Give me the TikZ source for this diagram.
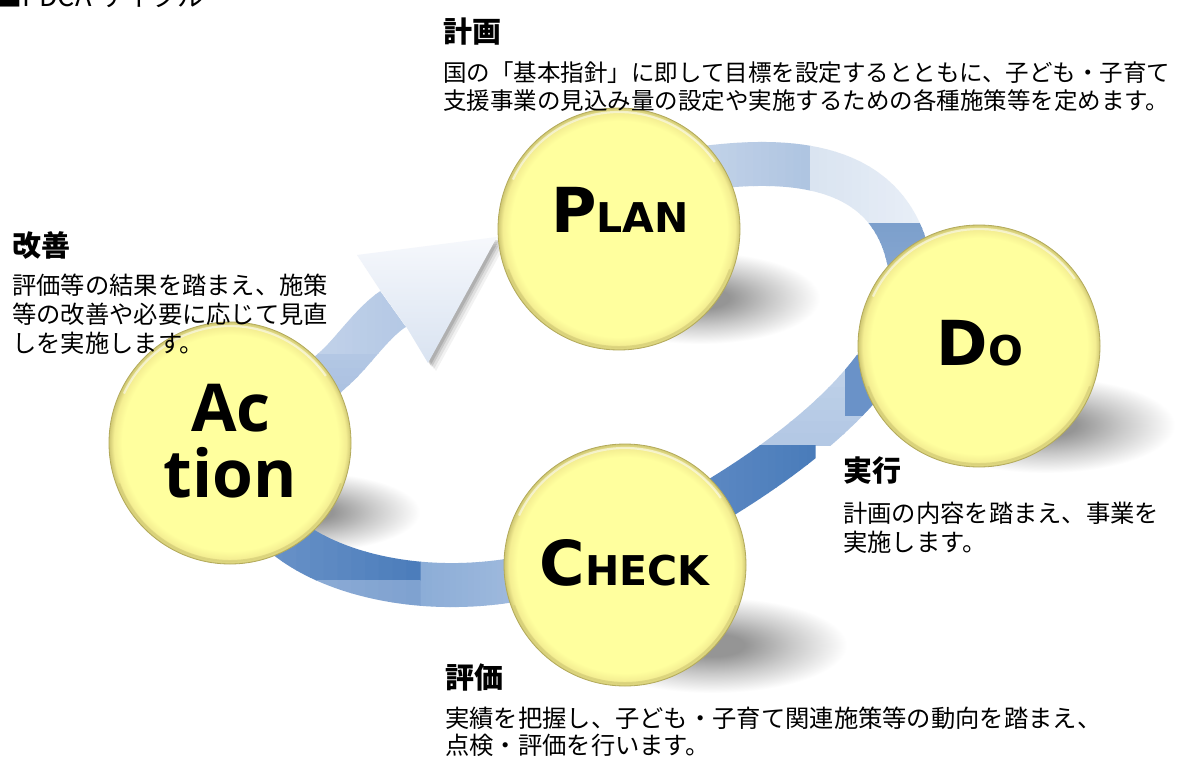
\documentclass[tikz,border=0pt]{standalone}
\usepackage{fontspec}
\newfontfamily\jp{Noto Sans CJK JP}
\newfontfamily\lab{DejaVu Sans}
\newfontfamily\labact{Open Sans}
\definecolor{ballA}{HTML}{FFFF9E}
\definecolor{ballB}{HTML}{F4EE92}
\definecolor{ballC}{HTML}{CFC773}
\definecolor{rimc}{HTML}{B3AA5A}
\definecolor{shd}{HTML}{959595}
\definecolor{tA1}{HTML}{C6D5EA}
\definecolor{tA2}{HTML}{AFC5E1}
\definecolor{tB1}{HTML}{DAE4F1}
\definecolor{tB2}{HTML}{EAF0F8}
\definecolor{tC1}{HTML}{7C9FCC}
\definecolor{tC2}{HTML}{8AAAD3}
\definecolor{rA1}{HTML}{D3E0F0}
\definecolor{rA2}{HTML}{B3C8E4}
\definecolor{rB1}{HTML}{5E8AC4}
\definecolor{rB2}{HTML}{4A7CBA}
\definecolor{rD}{HTML}{6A92C8}
\definecolor{bC1}{HTML}{8CADD7}
\definecolor{bC2}{HTML}{9EB9DD}
\definecolor{bD1}{HTML}{769BCD}
\definecolor{bD2}{HTML}{4C7DBB}
\definecolor{bE1}{HTML}{9AB5DB}
\definecolor{bE2}{HTML}{7FA2D0}
\definecolor{sA1}{HTML}{98B4DA}
\definecolor{sA2}{HTML}{A9C1E0}
\definecolor{sB1}{HTML}{C3D3EA}
\definecolor{sB2}{HTML}{B3C7E4}
\definecolor{headT}{HTML}{F6F8FC}
\definecolor{headB}{HTML}{D9E3F1}
\pgfdeclareradialshading{ballyellow}{\pgfpoint{0bp}{0bp}}{color(0bp)=(ballA); color(22.3bp)=(ballA); color(24bp)=(ballB); color(25bp)=(ballC); color(50bp)=(ballC)}
\pgfdeclareradialshading{shadowsh}{\pgfpoint{0bp}{0bp}}{color(0bp)=(shd); color(6bp)=(shd); color(15bp)=(shd!50!white); color(25bp)=(white); color(50bp)=(white)}
\newcommand\bandgx[7]{%
  \foreach \ii in {0,...,15}{%
    \pgfmathtruncatemacro\pp{100-100*\ii/15}%
    \begin{scope}
      \clip ({#2+(#3-#2)*\ii/16},#4) rectangle ({#2+(#3-#2)*(\ii+1)/16+0.6},#5);
      \draw[bandline, color=#6!\pp!#7] #1;
    \end{scope}
  }%
}
\newcommand\bandgy[7]{%
  \foreach \ii in {0,...,15}{%
    \pgfmathtruncatemacro\pp{100-100*\ii/15}%
    \begin{scope}
      \clip (#2,{#4+(#5-#4)*\ii/16}) rectangle (#3,{#4+(#5-#4)*(\ii+1)/16+0.6});
      \draw[bandline, color=#6!\pp!#7] #1;
    \end{scope}
  }%
}
\tikzset{
  bandline/.style={line width=44pt},
  ballnode/.style={circle, minimum size=242pt, inner sep=0pt, shading=ballyellow, draw=rimc, line width=0.8pt},
  softshadow/.style={shading=shadowsh},
  biglab/.style={anchor=base, inner sep=0pt, font=\lab\bfseries},
  actlab/.style={anchor=base, inner sep=0pt, font=\labact\bfseries\fontsize{66}{66}\selectfont},
  jphead/.style={anchor=base west, inner sep=0pt, font=\jp\bfseries\fontsize{29}{29}\selectfont},
  jpbody/.style={anchor=base west, inner sep=0pt, font=\jp\fontsize{24.3}{24.3}\selectfont},
  jpbodys/.style={anchor=base west, inner sep=0pt, font=\jp\fontsize{23.5}{23.5}\selectfont},
}
\def\bandtop{(690,170) .. controls (790,155) and (900,160) .. (912,280)}
\def\bandright{(912,280) .. controls (905,360) and (820,440) .. (700,510)}
\def\bandmain{(700,510) .. controls (640,545) and (560,578) .. (480,584) .. controls (400,590) and (330,570) .. (290,540) .. controls (245,480) and (290,407) .. (335,368) .. controls (352,353) and (372,323) .. (393,309)}
\begin{document}
\begin{tikzpicture}[x=1pt,y=-1pt]
\useasboundingbox (0,0) rectangle (1184,757);
\fill[white] (0,0) rectangle (1184,757);
% soft shadows
\foreach \cx/\cy/\rx/\ry in {700/298/120/46, 1045/425/130/48, 712/645/135/48, 305/512/115/40}{
  \shade[softshadow] (\cx,\cy) ellipse [x radius=\rx*1pt, y radius=\ry*1pt];
}
% band: top arc (PLAN -> Do)
\bandgx{\bandtop}{680}{810}{100}{330}{tA1}{tA2}
\bandgx{\bandtop}{810}{945}{100}{223}{tB1}{tB2}
\bandgy{\bandtop}{860}{945}{223}{300}{tC1}{tC2}
% band: Do -> CHECK
\bandgy{\bandright}{660}{960}{260}{445}{rA1}{rA2}
\bandgx{\bandright}{690}{815}{445}{560}{rB1}{rB2}
\begin{scope}
  \clip (845,355) rectangle (885,415);
  \draw[bandline, color=rD] \bandright;
\end{scope}
% band: CHECK -> Action -> arrow shaft
\bandgx{\bandmain}{420}{515}{470}{660}{bC1}{bC2}
\bandgx{\bandmain}{200}{420}{480}{580}{bD1}{bD2}
\bandgx{\bandmain}{200}{420}{580}{660}{bE1}{bE2}
\bandgy{\bandmain}{200}{420}{353}{480}{sB2}{sA1}
\bandgx{\bandmain}{300}{420}{280}{353}{sB1}{sB2}
% arrow head
\coordinate (tip) at (497,237);
\coordinate (wl) at (357,255);
\coordinate (nl) at (380,290);
\coordinate (nr) at (407,328);
\coordinate (wr) at (428,363);
\foreach \s/\o in {8/0.05, 6/0.07, 4/0.10, 2.5/0.12}{
  \fill[black, opacity=\o] ([shift={(\s,\s)}]tip) -- ([shift={(\s,\s)}]wl) -- ([shift={(\s,\s)}]nl) -- ([shift={(\s,\s)}]nr) -- ([shift={(\s,\s)}]wr) -- cycle;
}
\shade[top color=headT, bottom color=headB] (tip) -- (wl) -- (nl) -- (nr) -- (wr) -- cycle;
% circles
\node[ballnode] (plan) at (619,229) {};
\node[ballnode] (do) at (979,346) {};
\node[ballnode] (check) at (625,565) {};
\node[ballnode] (act) at (230,443) {};
\foreach \n in {plan,do,check,act}{
  \draw[white, opacity=0.55, line width=2.2pt] (\n.center) ++(155:117pt) arc[start angle=155, end angle=35, radius=117pt];
  \draw[ballC, opacity=0.5, line width=2pt] (\n.center) ++(200:118pt) arc[start angle=200, end angle=340, radius=118pt];
}
% labels
\node[biglab] (planlab) at (620,232) {{\fontsize{62}{62}\selectfont P}{\fontsize{41}{41}\selectfont LAN}};
\node[biglab] (dolab) at (980,365) {{\fontsize{62}{62}\selectfont D}{\fontsize{41}{41}\selectfont O}};
\node[biglab] (checklab) at (624.5,585) {{\fontsize{62}{62}\selectfont C}{\fontsize{41}{41}\selectfont HECK}};
\node[actlab] (actlab1) at (231,431) {Ac};
\node[actlab] (actlab2) at (230,497) {tion};
% texts
\node[anchor=base west, inner sep=0pt, font=\jp\fontsize{27}{27}\selectfont] (title) at (-5,7) {■PDCA サイクル};
\node[jphead] (h1) at (443,43) {計画};
\node[jpbodys] (p1a) at (443,82) {国の「基本指針」に即して目標を設定するとともに、子ども・子育て};
\node[jpbodys] (p1b) at (443,110) {支援事業の見込み量の設定や実施するための各種施策等を定めます。};
\node[jphead] (h2) at (12,256) {改善};
\node[jpbody] (p2a) at (12,294) {評価等の結果を踏まえ、施策};
\node[jpbody] (p2b) at (12,323) {等の改善や必要に応じて見直};
\node[jpbody] (p2c) at (12,352) {しを実施します。};
\node[jphead] (h3) at (843,481) {実行};
\node[jpbody] (p3a) at (843,522) {計画の内容を踏まえ、事業を};
\node[jpbody] (p3b) at (843,551) {実施します。};
\node[jphead] (h4) at (445,688) {評価};
\node[jpbody] (p4a) at (445,727) {実績を把握し、子ども・子育て関連施策等の動向を踏まえ、};
\node[jpbody] (p4b) at (445,754) {点検・評価を行います。};
\end{tikzpicture}
\end{document}
